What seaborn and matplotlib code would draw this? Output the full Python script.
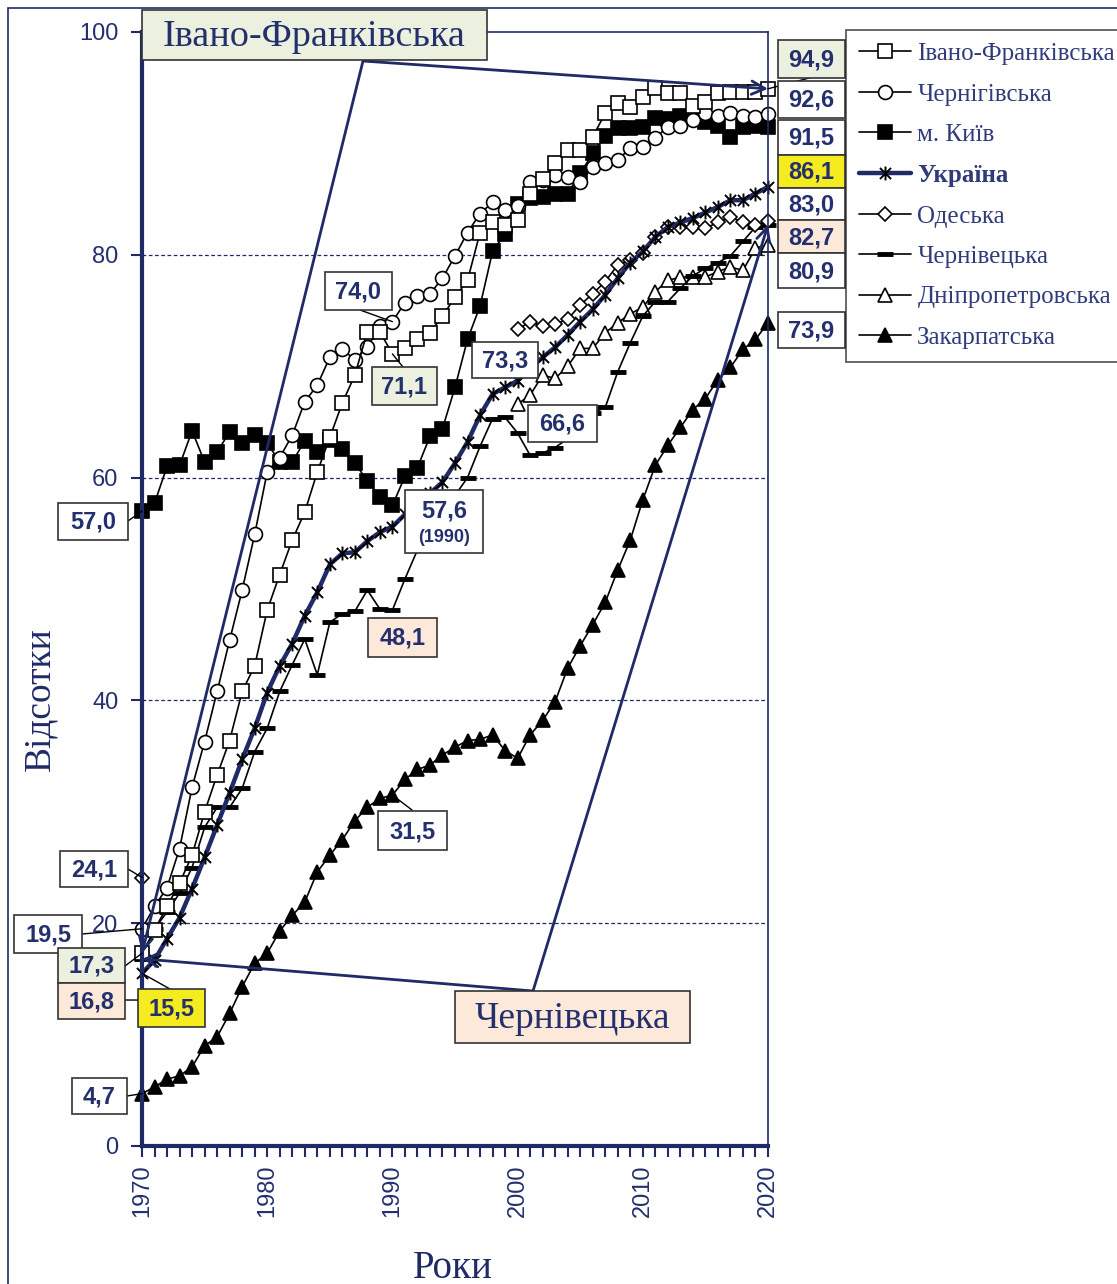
import pandas as pd
import seaborn as sns
import matplotlib.pyplot as plt
from matplotlib.lines import Line2D
from matplotlib.patches import Rectangle
from matplotlib.path import Path

# --- дані (відсотки, 1970-2020) ---
years = list(range(1970, 2021))
years_2000 = list(range(2000, 2021))

ivano_frankivska = [17.3, 19.4, 21.5, 23.6, 26.1, 30.0, 33.3, 36.4, 40.8, 43.1,
                    48.1, 51.3, 54.4, 56.9, 60.5, 63.6, 66.7, 69.2, 73.1, 73.1,
                    71.1, 71.6, 72.4, 73.0, 74.5, 76.2, 77.7, 82.0, 82.9, 82.7,
                    83.1, 85.5, 86.8, 88.2, 89.4, 89.4, 90.6, 92.7, 93.6, 93.3,
                    94.2, 95.0, 94.5, 94.5, 93.4, 93.7, 94.5, 94.6, 94.6, 94.6, 94.9]
chernihivska = [19.5, 21.5, 23.2, 26.7, 32.2, 36.3, 40.8, 45.4, 49.9, 54.9,
                60.5, 61.8, 63.8, 66.8, 68.3, 70.8, 71.5, 70.6, 71.7, 73.6,
                74.0, 75.7, 76.3, 76.5, 77.9, 79.9, 82.0, 83.7, 84.7, 84.0,
                84.4, 86.5, 86.7, 87.2, 87.0, 86.5, 87.9, 88.2, 88.5, 89.6,
                89.7, 90.5, 91.5, 91.6, 92.1, 92.7, 92.5, 92.7, 92.5, 92.4, 92.6]
kyiv = [57.0, 57.7, 61.0, 61.1, 64.2, 61.4, 62.3, 64.1, 63.1, 63.8,
        63.1, 61.4, 61.4, 63.3, 62.3, 63.4, 62.6, 61.3, 59.7, 58.3,
        57.5, 60.1, 60.9, 63.7, 64.4, 68.1, 72.4, 75.4, 80.3, 81.9,
        84.6, 85.1, 85.2, 85.5, 85.5, 87.3, 89.1, 90.7, 91.4, 91.4,
        91.5, 92.3, 92.2, 92.5, 92.3, 91.9, 91.6, 90.6, 91.5, 91.6, 91.5]
ukraine = [15.5, 16.7, 18.6, 20.5, 23.1, 25.9, 28.8, 31.7, 34.7, 37.5,
           40.7, 43.1, 45.1, 47.6, 49.7, 52.2, 53.2, 53.3, 54.3, 55.1,
           55.6, 56.7, 57.6, 58.6, 59.6, 61.3, 63.2, 65.6, 67.5, 68.1,
           68.7, 69.8, 70.8, 71.7, 72.8, 74.0, 75.1, 76.4, 77.9, 79.3,
           80.3, 81.6, 82.5, 82.9, 83.3, 83.8, 84.3, 84.9, 84.9, 85.5, 86.1]
odeska_1970 = 24.1
odeska = [73.3, 74.0, 73.6, 73.8, 74.2, 75.5, 76.5, 77.6, 79.1, 79.5,
          80.2, 81.6, 82.5, 82.5, 82.5, 82.4, 82.9, 83.4, 82.9, 82.7, 83.0]
chernivetska = [16.8, 19.5, 21.0, 22.7, 25.0, 28.6, 30.4, 30.4, 32.1, 35.4,
                37.5, 40.8, 43.2, 45.5, 42.3, 47.0, 47.8, 48.0, 49.9, 48.2,
                48.1, 50.9, 53.5, 55.8, 57.3, 58.4, 60.0, 62.8, 65.3, 65.4,
                64.0, 62.0, 62.2, 62.7, 63.5, 64.7, 65.8, 66.3, 69.5, 72.1,
                74.5, 75.8, 75.8, 77.0, 78.1, 78.8, 79.3, 79.9, 81.2, 82.5, 82.7]
dnipropetrovska = [66.6, 67.4, 69.2, 68.9, 70.0, 71.6, 71.6, 73.0, 73.9, 74.7,
                   75.3, 76.7, 77.7, 78.0, 78.0, 78.0, 78.5, 78.9, 78.6, 80.6, 80.9]
zakarpatska = [4.7, 5.3, 6.0, 6.3, 7.1, 9.0, 9.8, 11.9, 14.3, 16.4,
               17.3, 19.3, 20.7, 21.9, 24.6, 26.1, 27.5, 29.2, 30.4, 31.2,
               31.5, 32.9, 33.8, 34.2, 35.1, 35.8, 36.4, 36.5, 36.9, 35.5,
               34.8, 36.9, 38.2, 39.9, 42.9, 44.9, 46.8, 48.8, 51.7, 54.4,
               58.0, 61.1, 62.9, 64.5, 66.1, 67.1, 68.8, 69.9, 71.5, 72.4, 73.9]

W, H = 1117, 1284
NAVY = '#1F2A66'
TXT = '#24306E'
GREEN = '#EBF1DE'
YELLOW = '#F4EC1F'
PEACH = '#FDE9D9'

sns.set_theme(style='white')
plt.rcParams['font.family'] = ['Liberation Sans', 'DejaVu Sans']

fig = plt.figure(figsize=(W / 100, H / 100), dpi=100)
ax = fig.add_axes([142 / W, 1 - 1146 / H, (768 - 142) / W, (1146 - 32) / H])

# зірочка як у Excel
ast = Path([(0, -1), (0, 1), (-0.8, -0.8), (0.8, 0.8), (-0.8, 0.8), (0.8, -0.8)],
           [Path.MOVETO, Path.LINETO] * 3)


def df_of(x, y):
    return pd.DataFrame({'year': x, 'value': y})


base = dict(color='black', linewidth=1.2, markeredgecolor='black',
            markeredgewidth=1.2, clip_on=False, errorbar=None)

sns.lineplot(data=df_of(years, zakarpatska), x='year', y='value', ax=ax,
             marker='^', markersize=10, markerfacecolor='black', **base)
sns.lineplot(data=df_of(years_2000, dnipropetrovska), x='year', y='value', ax=ax,
             marker='^', markersize=10, markerfacecolor='white', **base)
sns.lineplot(data=df_of(years, chernivetska), x='year', y='value', ax=ax,
             marker='_', markersize=12, **{**base, 'markeredgewidth': 3.5})
sns.lineplot(data=df_of(years_2000, odeska), x='year', y='value', ax=ax,
             marker='D', markersize=7.5, markerfacecolor='white', **base)
ax.plot([1970], [odeska_1970], marker='D', ms=7.5, mfc='white', mec='black',
        mew=1.2, ls='none', clip_on=False)
sns.lineplot(data=df_of(years, kyiv), x='year', y='value', ax=ax,
             marker='s', markersize=9.5, markerfacecolor='black', **base)
sns.lineplot(data=df_of(years, chernihivska), x='year', y='value', ax=ax,
             marker='o', markersize=10, markerfacecolor='white', **base)
sns.lineplot(data=df_of(years, ivano_frankivska), x='year', y='value', ax=ax,
             marker='s', markersize=9.5, markerfacecolor='white', **base)
sns.lineplot(data=df_of(years, ukraine), x='year', y='value', ax=ax,
             marker=ast, markersize=10, markerfacecolor='none',
             **{**base, 'color': NAVY, 'linewidth': 3.2, 'markeredgewidth': 1.4})

ax.set_xlim(1970, 2020)
ax.set_ylim(0, 100)
ax.set_xticks(range(1970, 2021, 10))
ax.set_xticks(range(1970, 2021), minor=True)
ax.set_yticks(range(0, 101, 20))
ax.tick_params(axis='x', which='both', direction='out', length=8, width=1.5,
               color=NAVY, labelsize=17, labelcolor=TXT, pad=5, labelrotation=90)
ax.tick_params(axis='y', direction='out', length=8, width=1.5, color=NAVY,
               labelsize=17, labelcolor=TXT, pad=9)
ax.tick_params(bottom=True, left=True, which='both')
ax.tick_params(axis='y', which='minor', left=False)
ax.set_xlabel('')
ax.set_ylabel('')
for y in (20, 40, 60, 80):
    ax.axhline(y, color=NAVY, lw=0.9, ls=(0, (3, 2)), zorder=0.5)
for s in ('left', 'bottom'):
    ax.spines[s].set_color(NAVY)
    ax.spines[s].set_linewidth(3)
for s in ('top', 'right'):
    ax.spines[s].set_color(NAVY)
    ax.spines[s].set_linewidth(1.2)

fig.text(40 / W, 1 - 699 / H, 'Відсотки', rotation=90, ha='center', va='center',
         family='Liberation Serif', fontsize=27, color=NAVY)
fig.text(453 / W, 1 - 1268 / H, 'Роки', ha='center', va='center',
         family='Liberation Serif', fontsize=28, color=NAVY)

# рамка рисунка
fig.add_artist(Rectangle((8 / W, -0.05), 1.1, 1 - 8 / H + 0.05, fill=False,
                         ec=NAVY, lw=1.2, transform=fig.transFigure, zorder=0))


def box(x0, y0, x1, y1, text, fc='white', size=17, family='Liberation Sans',
        weight='bold', dy=1):
    fig.add_artist(Rectangle((x0 / W, 1 - y1 / H), (x1 - x0) / W, (y1 - y0) / H,
                             fc=fc, ec='#333333', lw=1.2,
                             transform=fig.transFigure, zorder=6))
    fig.text((x0 + x1) / 2 / W, 1 - ((y0 + y1) / 2 + dy) / H, text, ha='center',
             va='center', fontsize=size, family=family, weight=weight,
             color=TXT, zorder=7)


def leader(px, py, x, y, color='black', lw=1.0, arrow='-'):
    ax.annotate('', xy=(x, y), xycoords='data', xytext=(px, H - py),
                textcoords='figure pixels', annotation_clip=False,
                arrowprops=dict(arrowstyle=arrow, color=color, lw=lw,
                                shrinkA=0, shrinkB=0), zorder=8)


# великі підписи зі стрілками
head = '->,head_length=0.8,head_width=0.4'
leader(363, 61, 1970, ivano_frankivska[0], NAVY, 2, head)
leader(363, 61, 2020, ivano_frankivska[-1], NAVY, 2, head)
leader(533, 991, 1970, chernivetska[0], NAVY, 2, head)
leader(533, 991, 2020, chernivetska[-1], NAVY, 2, head)
box(142, 10, 487, 60, 'Івано-Франківська', GREEN, 27.5, 'Liberation Serif', 'normal', 2)
box(455, 991, 690, 1043, 'Чернівецька', PEACH, 27, 'Liberation Serif', 'normal', 2)

# значення праворуч
leader(813, 77, 2020, ivano_frankivska[-1])
box(778, 40, 845, 78, '94,9', GREEN)
box(778, 81, 845, 118, '92,6')
box(778, 120, 845, 155, '91,5')
box(778, 155, 845, 188, '86,1', YELLOW)
box(778, 188, 845, 220, '83,0')
box(778, 220, 845, 253, '82,7', PEACH)
box(778, 253, 845, 288, '80,9')
box(778, 312, 845, 348, '73,9')

# значення ліворуч
leader(128, 521, 1970, kyiv[0])
box(58, 503, 128, 540, '57,0')
leader(128, 869, 1970, odeska_1970)
box(60, 851, 128, 887, '24,1')
leader(82, 934, 1970, chernihivska[0])
box(14, 915, 82, 953, '19,5')
leader(125, 966, 1970, ivano_frankivska[0])
box(58, 948, 125, 983, '17,3', GREEN)
leader(125, 1000, 1969.7, 13.1)
box(58, 983, 125, 1019, '16,8', PEACH)
leader(170, 989, 1970, ukraine[0])
box(138, 989, 205, 1027, '15,5', YELLOW)
leader(127, 1096, 1970, zakarpatska[0])
box(72, 1078, 127, 1114, '4,7')

# значення всередині
leader(360, 310, 1990, chernihivska[20])
box(325, 272, 392, 310, '74,0')
leader(403, 367, 1990, ivano_frankivska[20])
box(372, 367, 437, 405, '71,1', GREEN)
box(472, 342, 538, 378, '73,3')
box(528, 405, 597, 442, '66,6')
box(405, 490, 483, 553, '', 'white')
fig.text(444 / W, 1 - 511 / H, '57,6', ha='center', va='center', fontsize=17,
         weight='bold', color=TXT, zorder=7)
fig.text(444 / W, 1 - 538 / H, '(1990)', ha='center', va='center', fontsize=13,
         weight='bold', color=TXT, zorder=7)
box(368, 618, 437, 657, '48,1', PEACH)
leader(412, 810, 1990, zakarpatska[20])
box(378, 811, 447, 850, '31,5')

# легенда
common = dict(color='black', lw=1.2, mec='black', mew=1.2)
handles = [
    Line2D([0], [0], marker='s', ms=9.5, mfc='white', **common),
    Line2D([0], [0], marker='o', ms=10, mfc='white', **common),
    Line2D([0], [0], marker='s', ms=9.5, mfc='black', **common),
    Line2D([0], [0], marker=ast, ms=10, mfc='none', color=NAVY, lw=3.2,
           mec='black', mew=1.4),
    Line2D([0], [0], marker='D', ms=7.5, mfc='white', **common),
    Line2D([0], [0], marker='_', ms=12, color='black', lw=1.2, mec='black', mew=3.5),
    Line2D([0], [0], marker='^', ms=10, mfc='white', **common),
    Line2D([0], [0], marker='^', ms=10, mfc='black', **common),
]
labels = ['Івано-Франківська', 'Чернігівська', 'м. Київ', 'Україна', 'Одеська',
          'Чернівецька', 'Дніпропетровська', 'Закарпатська']
leg = fig.legend(handles, labels, loc='upper left',
                 bbox_to_anchor=(846 / W, 1 - 30 / H), frameon=True, fancybox=False,
                 edgecolor='#222222', borderaxespad=0, borderpad=0.5,
                 handlelength=2.1, handletextpad=0.25, labelspacing=0.72,
                 prop={'family': 'Liberation Serif', 'size': 18})
leg.get_frame().set_linewidth(1.2)
for t in leg.get_texts():
    t.set_color('#2F3B7B')
leg.get_texts()[3].set_weight('bold')
leg.set_zorder(9)

fig.savefig('out.png', dpi=100)
